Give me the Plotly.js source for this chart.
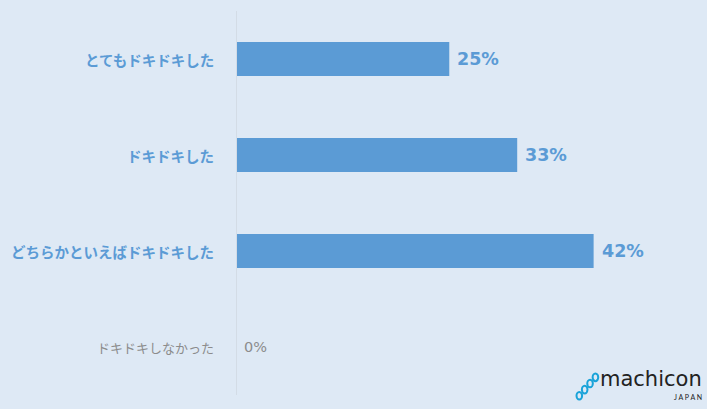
<!DOCTYPE html>
<html><head><meta charset="utf-8">
<script src="https://cdn.plot.ly/plotly-3.0.1.min.js"></script>
<style>html,body{margin:0;padding:0;background:#dee9f5;}#c{width:707px;height:409px;}</style>
</head><body><div id="c"></div>
<script>
const categories = ["とてもドキドキした", "ドキドキした", "どちらかといえばドキドキした", "ドキドキしなかった"];
const values = [25, 33, 42, 0];
const valueLabels = ["25%", "33%", "42%", "0%"];

const blue = "#5b9bd5";
const grey = "#8c8c8c";
const font = "Noto Sans CJK JP, Noto Sans, sans-serif";
const numFont = "DejaVu Sans, Verdana, sans-serif";

const trace = {
  type: "bar", orientation: "h",
  x: values, y: categories,
  marker: {color: blue},
  width: 0.354,
  hoverinfo: "skip"
};

const annotations = [];
categories.forEach((c, i) => {
  const zero = values[i] === 0;
  annotations.push({
    x: 0, xref: "paper", y: c, yref: "y", xanchor: "right", yanchor: "middle",
    xshift: -21, showarrow: false,
    text: zero ? c : "<b>" + c + "</b>",
    font: {family: font, size: zero ? 13 : 14.5, color: zero ? grey : blue}
  });
  annotations.push({
    x: values[i], xref: "x", y: c, yref: "y", xanchor: "left", yanchor: "middle",
    xshift: zero ? 5 : 6, showarrow: false,
    text: zero ? valueLabels[i] : "<b>" + valueLabels[i] + "</b>",
    font: {family: numFont, size: zero ? 14.5 : 17.5, color: zero ? grey : blue}
  });
});
annotations.push({
  x: 1, xref: "paper", y: 0, yref: "paper", xanchor: "right", yanchor: "bottom",
  yshift: 2, showarrow: false, text: "machicon",
  font: {family: "DejaVu Sans, sans-serif", size: 21, color: "#222"}
});
annotations.push({
  x: 1, xref: "paper", y: 0, yref: "paper", xanchor: "right", yanchor: "top",
  yshift: 4, showarrow: false, text: "J A P A N",
  font: {family: "Lato, sans-serif", size: 7, color: "#222"}
});

const shapes = [];
for (let k = 0; k < 4; k++) {
  shapes.push({type: "circle", xref: "paper", yref: "paper",
    x0: 0.727 + k * 0.0115, x1: 0.739 + k * 0.0115,
    y0: -0.012 + k * 0.016, y1: 0.008 + k * 0.016,
    line: {color: "#1aa3d9", width: 2}, fillcolor: "rgba(0,0,0,0)"});
}

const layout = {
  width: 707, height: 409,
  margin: {l: 237, r: 3, t: 11, b: 14},
  paper_bgcolor: "#dee9f5", plot_bgcolor: "#dee9f5",
  showlegend: false,
  xaxis: {range: [0, 55], showgrid: false, zeroline: false, showticklabels: false, showline: false, fixedrange: true},
  yaxis: {autorange: false, range: [3.5, -0.5], showticklabels: false, showgrid: false, zeroline: false,
          showline: true, linecolor: "#d3dce6", linewidth: 1, ticks: ""},
  annotations: annotations,
  shapes: shapes
};

Plotly.newPlot("c", [trace], layout, {displayModeBar: false, staticPlot: true});
</script></body></html>
